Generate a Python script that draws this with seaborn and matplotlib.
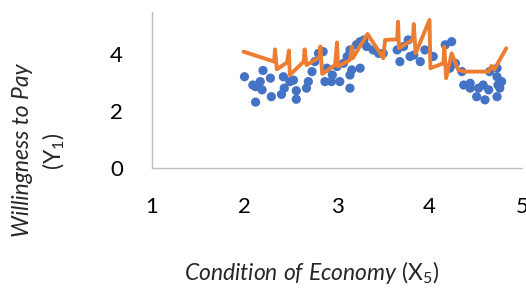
import matplotlib
matplotlib.use("Agg")
import matplotlib.pyplot as plt
import seaborn as sns
import pandas as pd

# Observed points: Condition of Economy (X5) vs Willingness to Pay (Y1)
x_obs = [2.00, 2.09, 2.12, 2.19, 2.17, 2.20, 2.28, 2.12, 2.29, 2.40,
         2.43, 2.42, 2.49, 2.53, 2.56, 2.56, 2.67, 2.69, 2.73, 2.76,
         2.80, 2.85, 2.87, 2.89, 2.94, 2.95, 3.00, 3.03, 3.07, 3.14,
         3.14, 3.16, 3.25, 3.11, 3.14, 3.21, 3.25, 3.29, 3.32, 3.39,
         3.45, 3.50, 3.65, 3.68, 3.72, 3.77, 3.79, 3.83, 3.90, 3.95,
         4.04, 4.17, 4.24, 4.22, 4.28, 4.35, 4.37, 4.44, 4.44, 4.51,
         4.53, 4.58, 4.60, 4.64, 4.65, 4.73, 4.73, 4.74, 4.76, 4.78,
         4.73]
y_obs = [3.20, 2.91, 2.85, 2.74, 3.03, 3.42, 3.15, 2.31, 2.50, 2.58,
         2.80, 3.20, 3.03, 3.08, 2.71, 2.41, 2.80, 3.03, 3.38, 3.73,
         4.02, 4.08, 3.03, 3.50, 3.03, 3.26, 3.56, 3.03, 3.67, 2.80,
         3.26, 3.44, 3.50, 3.91, 4.14, 4.32, 4.43, 4.49, 4.26, 4.14,
         4.02, 4.02, 4.14, 3.73, 4.26, 4.49, 3.91, 3.96, 3.73, 4.14,
         3.91, 4.32, 4.43, 3.50, 3.67, 3.38, 2.91, 2.97, 2.80, 2.50,
         2.80, 2.91, 2.39, 2.74, 3.38, 3.50, 3.20, 2.91, 2.80, 3.03,
         2.50]

# Predicted values (drawn in data order, not sorted)
x_pred = [1.99, 2.32, 2.33, 2.35, 2.46, 2.48, 2.49, 2.64, 2.65, 2.67,
          2.81, 2.82, 2.84, 2.98, 3.00, 3.01, 3.14, 3.16, 3.17, 3.33,
          3.50, 3.52, 3.65, 3.66, 3.67, 3.82, 3.83, 3.85, 4.00, 4.01,
          4.15, 4.16, 4.18, 4.24, 4.31, 4.38, 4.64, 4.67, 4.70, 4.83]
y_pred = [4.08, 3.73, 4.16, 3.46, 3.70, 4.12, 3.26, 3.73, 4.16, 3.61,
          3.88, 4.26, 3.30, 3.61, 4.40, 3.56, 3.79, 4.26, 3.85, 4.70,
          3.85, 4.49, 4.51, 5.13, 4.20, 4.51, 5.05, 4.02, 5.19, 3.50,
          3.67, 4.26, 3.15, 4.02, 3.44, 3.38, 3.38, 3.58, 3.45, 4.20]

x_ticks = [1, 2, 3, 4, 5]
y_ticks = [0, 2, 4]

sns.set_theme(style="white")
plt.rcParams["font.family"] = ["Lato", "DejaVu Sans"]
plt.rcParams["mathtext.fontset"] = "custom"
plt.rcParams["mathtext.rm"] = "Lato"
plt.rcParams["mathtext.it"] = "Lato:italic"

fig = plt.figure(figsize=(5.26, 2.89), dpi=100)
ax = fig.add_axes([152 / 526, 1 - 168 / 289, 370 / 526, 156 / 289])

obs = pd.DataFrame({"x": x_obs, "y": y_obs})
pred = pd.DataFrame({"x": x_pred, "y": y_pred})

sns.scatterplot(data=obs, x="x", y="y", ax=ax, color="#4472C4", s=44,
                edgecolor="none", zorder=2)
sns.lineplot(data=pred, x="x", y="y", ax=ax, sort=False, estimator=None,
             color="#ED7D31", linewidth=2.8, zorder=3)

ax.set_xlim(1, 5)
ax.set_ylim(0, 5.47)
ax.set_xticks(x_ticks)
ax.set_yticks(y_ticks)
ax.set_xticklabels([str(t) for t in x_ticks])
ax.set_yticklabels([str(t) for t in y_ticks])
ax.tick_params(axis="both", length=0, labelsize=16, colors="#000000")
ax.tick_params(axis="x", pad=21)
ax.tick_params(axis="y", pad=21)
ax.set_xlabel("")
ax.set_ylabel("")
for side in ["top", "right"]:
    ax.spines[side].set_visible(False)
for side in ["left", "bottom"]:
    ax.spines[side].set_color("#BFBFBF")
    ax.spines[side].set_linewidth(1.0)
ax.grid(False)

fig.text(312 / 526, 1 - 272 / 289,
         r"$\mathit{Condition\ of\ Economy}$ (X$_5$)",
         ha="center", va="center", fontsize=16.5)
fig.text(23 / 526, 1 - 150 / 289, "Willingness to Pay", style="italic",
         rotation=90, ha="center", va="center", fontsize=16.5)
fig.text(54 / 526, 1 - 151 / 289, r"(Y$_1$)",
         rotation=90, ha="center", va="center", fontsize=16.5)

fig.savefig("out.png", dpi=100)
